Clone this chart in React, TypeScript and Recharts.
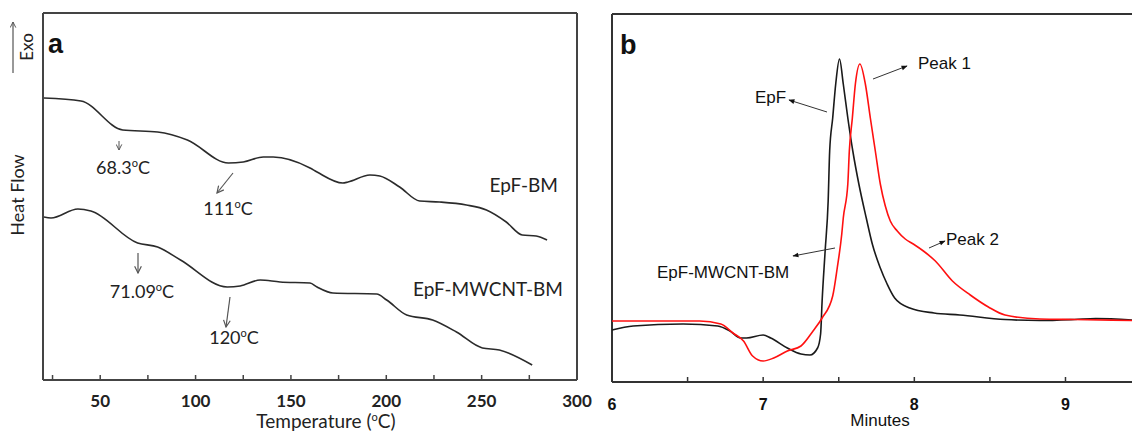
import React from 'react';
import { LineChart, Line, XAxis, YAxis, ReferenceLine } from 'recharts';

// (a) DSC traces, heat flow in arbitrary units
const epfBmTemp = [20.5, 39.9, 61.8, 80.1, 95.7, 117.2, 125.0, 135.5, 140.7, 160.0, 163.7, 177.2, 179.9, 191.4, 196.6, 207.0, 217.5, 227.9, 242.0, 252.5, 262.9, 271.3, 278.6, 284.3];
const epfBmFlow = [28.2, 27.9, 25.0, 24.8, 24.0, 21.7, 21.8, 22.3, 22.3, 21.2, 20.8, 19.7, 19.8, 20.5, 20.4, 19.3, 17.9, 17.8, 17.5, 17.0, 15.8, 14.5, 14.4, 14.0];
const mwcntTemp = [20.5, 24.2, 38.3, 45.1, 69.6, 80.1, 92.1, 116.6, 123.4, 133.9, 144.3, 160.0, 163.7, 172.0, 195.0, 200.2, 210.7, 224.3, 236.8, 250.4, 259.3, 276.5];
const mwcntFlow = [16.3, 16.2, 17.1, 16.9, 13.7, 13.3, 12.0, 9.3, 9.4, 10.0, 9.8, 9.7, 9.3, 8.7, 8.6, 8.0, 6.5, 6.0, 4.8, 3.2, 3.0, 1.5];
const tempTicks = [25, 50, 75, 100, 125, 150, 175, 200, 225, 250, 275, 300];
const tempLabels = [50, 100, 150, 200, 250, 300];

// (b) GPC traces, detector signal in arbitrary units
const epfTime = [6.0, 6.14, 6.47, 6.7, 6.78, 6.85, 6.89, 7.0, 7.05, 7.16, 7.25, 7.31, 7.36, 7.38, 7.39, 7.41, 7.43, 7.44, 7.46, 7.48, 7.505, 7.53, 7.56, 7.593, 7.633, 7.682, 7.722, 7.775, 7.82, 7.87, 7.97, 8.13, 8.3, 8.6, 8.83, 9.06, 9.2, 9.44];
const epfSignal = [5.2, 5.6, 5.8, 5.6, 5.1, 4.4, 4.4, 4.7, 4.4, 3.4, 2.8, 2.7, 3.4, 4.8, 8.1, 13.1, 18.1, 23.1, 26.4, 29.8, 32.3, 29.8, 26.4, 23.1, 19.8, 16.4, 13.8, 11.4, 9.8, 8.4, 7.4, 6.9, 6.7, 6.25, 6.15, 6.25, 6.35, 6.2];
const mwcntTime = [6.0, 6.58, 6.72, 6.8, 6.87, 6.93, 7.0, 7.07, 7.16, 7.25, 7.33, 7.39, 7.46, 7.49, 7.52, 7.53, 7.56, 7.57, 7.59, 7.61, 7.64, 7.676, 7.709, 7.742, 7.775, 7.808, 7.841, 7.887, 7.94, 7.993, 8.06, 8.139, 8.252, 8.37, 8.49, 8.6, 8.83, 9.06, 9.44];
const mwcntSignal = [6.1, 6.1, 5.8, 4.9, 4.1, 2.6, 2.1, 2.4, 3.1, 3.6, 5.1, 6.4, 8.6, 11.4, 14.8, 16.4, 19.8, 23.1, 26.4, 29.8, 31.8, 29.8, 26.4, 23.1, 19.8, 17.6, 16.1, 15.1, 14.3, 13.8, 13.1, 12.1, 10.1, 8.7, 7.5, 6.7, 6.3, 6.25, 6.15];
const timeTicks = [6.5, 7, 7.5, 8, 8.5, 9];
const timeLabels = [6, 7, 8, 9];

const toRows = (xs: number[], ys: number[]) => xs.map((x, i) => ({ x, y: ys[i] }));

const epfBmData = toRows(epfBmTemp, epfBmFlow);
const mwcntBmData = toRows(mwcntTemp, mwcntFlow);
const epfData = toRows(epfTime, epfSignal);
const mwcntData = toRows(mwcntTime, mwcntSignal);

const CAL = 'Lato, "Open Sans", sans-serif';
const ARIAL = '"Liberation Sans", Arial, sans-serif';

// degree sign drawn as a raised small "o", like the original
const Deg = ({ size = 11 }: { size?: number }) => (
  <>
    <tspan dy={-7} fontSize={size}>o</tspan>
    <tspan dy={7}>C</tspan>
  </>
);

const Overlay = () => (
  <svg width={1132} height={433} style={{ position: 'absolute', left: 0, top: 0, pointerEvents: 'none' }}>
    <defs>
      <marker id="openHead" viewBox="0 0 10 10" refX="9" refY="5" markerWidth="7" markerHeight="7" orient="auto">
        <path d="M1,1 L9,5 L1,9" fill="none" stroke="#555" strokeWidth="1.4" />
      </marker>
      <marker id="solidHead" viewBox="0 0 10 10" refX="9" refY="5" markerWidth="8" markerHeight="6" orient="auto">
        <path d="M0,1 L10,5 L0,9 z" fill="#111" />
      </marker>
    </defs>

    {/* panel a */}
    <line x1={13} y1={73} x2={13} y2={22} stroke="#333" strokeWidth={1} markerEnd="url(#openHead)" />
    <text transform="translate(33,47) rotate(-90)" textAnchor="middle" fontFamily={CAL} fontSize={17} fill="#222">Exo</text>
    <text transform="translate(24,195) rotate(-90)" textAnchor="middle" fontFamily={CAL} fontSize={18} fill="#222">Heat Flow</text>
    <text x={48} y={53} fontFamily={ARIAL} fontWeight={700} fontSize={27} fill="#111">a</text>

    <line x1={119} y1={141} x2={119} y2={150} stroke="#555" strokeWidth={1} markerEnd="url(#openHead)" />
    <text x={123} y={174} textAnchor="middle" fontFamily={CAL} fontSize={18} fill="#222">68.3<Deg /></text>
    <line x1={233} y1={173} x2={217} y2={193} stroke="#555" strokeWidth={1.2} markerEnd="url(#openHead)" />
    <text x={228} y={215} textAnchor="middle" fontFamily={CAL} fontSize={18} fill="#222">111<Deg /></text>
    <line x1={138} y1={253} x2={138} y2={273} stroke="#555" strokeWidth={1.2} markerEnd="url(#openHead)" />
    <text x={142} y={298} textAnchor="middle" fontFamily={CAL} fontSize={18} fill="#222">71.09<Deg /></text>
    <line x1={230} y1={297} x2={226} y2={327} stroke="#555" strokeWidth={1.2} markerEnd="url(#openHead)" />
    <text x={234} y={344} textAnchor="middle" fontFamily={CAL} fontSize={18} fill="#222">120<Deg /></text>
    <text x={558} y={192} textAnchor="end" fontFamily={CAL} fontSize={19} fill="#222">EpF-BM</text>
    <text x={563} y={296} textAnchor="end" fontFamily={CAL} fontSize={19} fill="#222">EpF-MWCNT-BM</text>
    <text x={326} y={428} textAnchor="middle" fontFamily={CAL} fontSize={19} fill="#222">Temperature (<Deg />)</text>

    {/* panel b */}
    <text x={620} y={54} fontFamily={ARIAL} fontWeight={700} fontSize={27} fill="#111">b</text>
    <line x1={873} y1={79} x2={907} y2={66} stroke="#333" strokeWidth={1} markerEnd="url(#solidHead)" />
    <text x={918} y={69} fontFamily={ARIAL} fontSize={17} fill="#111">Peak 1</text>
    <line x1={827} y1={112} x2={789} y2={100} stroke="#333" strokeWidth={1} markerEnd="url(#solidHead)" />
    <text x={755} y={103} fontFamily={ARIAL} fontSize={17} fill="#111">EpF</text>
    <line x1={929} y1={248} x2={945} y2={241} stroke="#333" strokeWidth={1} markerEnd="url(#solidHead)" />
    <text x={946} y={245} fontFamily={ARIAL} fontSize={17} fill="#111">Peak 2</text>
    <line x1={835} y1={248} x2={793} y2={256} stroke="#333" strokeWidth={1} markerEnd="url(#solidHead)" />
    <text x={657} y={278} fontFamily={ARIAL} fontSize={17} fill="#111">EpF-MWCNT-BM</text>
    <text x={880} y={426} textAnchor="middle" fontFamily={ARIAL} fontSize={17} fill="#111">Minutes</text>
  </svg>
);

export default function App() {
  return (
    <div style={{ position: 'absolute', left: 0, top: 0, width: 1132, height: 433, background: '#fff', overflow: 'hidden' }}>
      {/* (a) DSC */}
      <div style={{ position: 'absolute', left: 0, top: 0 }}>
        <LineChart width={610} height={433} margin={{ top: 13, right: 33, bottom: 0, left: 43 }}>
          <XAxis
            type="number"
            dataKey="x"
            domain={[20, 300]}
            ticks={tempLabels}
            interval={0}
            height={53}
            tickLine={false}
            tickMargin={9}
            axisLine={{ stroke: '#444', strokeWidth: 2 }}
            tick={{ fill: '#222', fontSize: 17, fontWeight: 700, fontFamily: CAL }}
          />
          <YAxis type="number" domain={[0, 36.7]} hide />
          {/* frame and inward ticks */}
          <ReferenceLine x={20} stroke="#444" strokeWidth={2} />
          <ReferenceLine x={300} stroke="#444" strokeWidth={2} />
          <ReferenceLine y={36.7} stroke="#444" strokeWidth={2} />
          {tempTicks.map((t) => (
            <ReferenceLine key={t} segment={[{ x: t, y: 0 }, { x: t, y: 0.5 }]} stroke="#444" strokeWidth={1.5} />
          ))}
          <Line data={epfBmData} dataKey="y" type="monotone" stroke="#2b2b2b" strokeWidth={1.6} dot={false} isAnimationActive={false} />
          <Line data={mwcntBmData} dataKey="y" type="monotone" stroke="#2b2b2b" strokeWidth={1.6} dot={false} isAnimationActive={false} />
        </LineChart>
      </div>

      {/* (b) GPC */}
      <div style={{ position: 'absolute', left: 590, top: 0 }}>
        <LineChart width={542} height={433} margin={{ top: 14, right: 0, bottom: 0, left: 22 }}>
          <XAxis
            type="number"
            dataKey="x"
            domain={[6, 9.44]}
            ticks={timeLabels}
            interval={0}
            height={51}
            tickLine={false}
            tickMargin={11}
            axisLine={{ stroke: '#333', strokeWidth: 2 }}
            tick={{ fill: '#111', fontSize: 16, fontWeight: 700, fontFamily: ARIAL }}
          />
          <YAxis type="number" domain={[0, 36.8]} hide />
          <ReferenceLine x={6} stroke="#333" strokeWidth={2} />
          <ReferenceLine y={36.8} stroke="#333" strokeWidth={2} />
          {timeTicks.map((t) => (
            <ReferenceLine key={t} segment={[{ x: t, y: 0 }, { x: t, y: 0.5 }]} stroke="#333" strokeWidth={1.5} />
          ))}
          <Line data={epfData} dataKey="y" type="monotone" stroke="#1a1a1a" strokeWidth={1.6} dot={false} isAnimationActive={false} />
          <Line data={mwcntData} dataKey="y" type="monotone" stroke="#ff1010" strokeWidth={1.6} dot={false} isAnimationActive={false} />
        </LineChart>
      </div>

      <Overlay />
    </div>
  );
}
